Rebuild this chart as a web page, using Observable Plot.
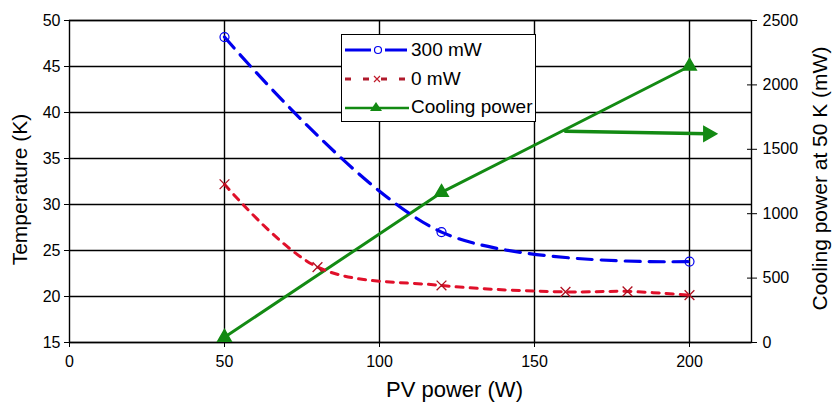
<!DOCTYPE html>
<html>
<head>
<meta charset="utf-8">
<script src="https://cdn.jsdelivr.net/npm/d3@7"></script>
<script src="https://cdn.jsdelivr.net/npm/@observablehq/plot@0.6"></script>
<style>
  body { margin: 0; background: #fff; }
  #wrap { position: relative; width: 832px; height: 407px; font-family: "Liberation Sans", Arial, sans-serif; }
  #legend { position: absolute; left: 341px; top: 34px; width: 195px; height: 88px; border: 1.5px solid #000; background: #fff; box-sizing: border-box; }
  .row { position: absolute; left: 3px; height: 24px; display: flex; align-items: center; font-size: 19px; color: #000; }
  .row svg { display: block; margin-right: 2px; }
</style>
</head>
<body>
<div id="wrap"></div>
<script>
// ---- data ----
const pvPower300 = [50, 120, 200];
const temp300 = [48.2, 27.0, 23.8];
const pvPower0 = [50, 80, 120, 160, 180, 200];
const temp0 = [32.2, 23.2, 21.2, 20.5, 20.55, 20.15];
const pvPowerCool = [50, 120, 200];
const coolingPower = [40, 1165, 2145];
const xTicks = [0, 50, 100, 150, 200];
const tempTicks = [15, 20, 25, 30, 35, 40, 45, 50];
const powerTicks = [0, 500, 1000, 1500, 2000, 2500];
const arrowX = [160, 206];
const arrowPower = [1640, 1620];
const seriesNames = ["300 mW", "0 mW", "Cooling power"];

// map right-axis power (0..2500 mW) onto left-axis temperature (15..50 K)
const tMin = 15, tMax = 50, pMax = 2500;
const p2t = p => tMin + (p / pMax) * (tMax - tMin);

const s300 = pvPower300.map((x, i) => ({x, y: temp300[i]}));
const s0 = pvPower0.map((x, i) => ({x, y: temp0[i]}));
const sCool = pvPowerCool.map((x, i) => ({x, y: p2t(coolingPower[i])}));
const arrowLine = arrowX.map((x, i) => ({x, y: p2t(arrowPower[i])}));

const BLUE = "#0000ee", RED = "#e0102a", GREEN = "#138a13";
const font = "Liberation Sans, Arial, sans-serif";

const chart = Plot.plot({
  width: 832,
  height: 407,
  marginLeft: 69,
  marginRight: 81,
  marginTop: 20,
  marginBottom: 65,
  style: {fontFamily: font, fontSize: "16px", color: "#000", background: "#fff"},
  x: {domain: [0, 220]},
  y: {domain: [tMin, tMax]},
  marks: [
    Plot.gridY(tempTicks, {stroke: "#000", strokeOpacity: 1, strokeWidth: 1.4}),
    Plot.gridX(xTicks.slice(1), {stroke: "#000", strokeOpacity: 1, strokeWidth: 1.4}),
    Plot.frame({stroke: "#000", strokeWidth: 1.4}),
    Plot.axisY(tempTicks, {anchor: "left", tickSize: 5, tickPadding: 4, fontSize: 16, label: null}),
    Plot.axisY(powerTicks.map(p2t), {anchor: "right", tickSize: 10, dx: -5, tickPadding: 6, fontSize: 16, label: null,
      tickFormat: (d, i) => String(powerTicks[i])}),
    Plot.axisX(xTicks, {anchor: "bottom", tickSize: 5, tickPadding: 8, fontSize: 16, label: null}),
    Plot.text(["Temperature (K)"], {frameAnchor: "left", dx: -49, dy: 8, rotate: -90, fontSize: 21, textAnchor: "middle"}),
    Plot.text(["Cooling power at 50 K (mW)"], {frameAnchor: "right", dx: 69, dy: -3, rotate: -90, fontSize: 21, textAnchor: "middle"}),
    Plot.text(["PV power (W)"], {frameAnchor: "bottom", dx: 44, dy: 54, fontSize: 22, textAnchor: "middle"}),
    // series
    Plot.line(sCool, {x: "x", y: "y", stroke: GREEN, strokeWidth: 3}),
    Plot.line(s300, {x: "x", y: "y", stroke: BLUE, strokeWidth: 3.2, strokeDasharray: "15,9", curve: "catmull-rom"}),
    Plot.line(s0, {x: "x", y: "y", stroke: RED, strokeWidth: 3, strokeDasharray: "7,7", curve: "catmull-rom"}),
    Plot.dot(s300, {x: "x", y: "y", r: 4.5, symbol: "circle", stroke: BLUE, fill: "none", strokeWidth: 1.2}),
    Plot.dot(s0, {x: "x", y: "y", r: 4.5, symbol: "times", stroke: "#b01020", strokeWidth: 1.3}),
    Plot.dot(sCool, {x: "x", y: "y", r: 5, symbol: "triangle", fill: GREEN, stroke: GREEN}),
    // annotation arrow
    Plot.line(arrowLine, {x: "x", y: "y", stroke: GREEN, strokeWidth: 3.5}),
    Plot.dot([arrowLine[1]], {x: "x", y: "y", r: 5.5, symbol: "triangle", rotate: 90, fill: GREEN, stroke: GREEN})
  ]
});

const wrap = document.getElementById("wrap");
wrap.appendChild(chart);

// legend
const legend = document.createElement("div");
legend.id = "legend";
const samples = [
  `<svg width="64" height="16"><line x1="0" y1="8" x2="26" y2="8" stroke="${BLUE}" stroke-width="3"/><line x1="40" y1="8" x2="62" y2="8" stroke="${BLUE}" stroke-width="3"/><circle cx="33" cy="8" r="3.5" fill="none" stroke="${BLUE}" stroke-width="1.2"/></svg>`,
  `<svg width="64" height="16"><line x1="0" y1="8" x2="62" y2="8" stroke="#b01a2c" stroke-width="3" stroke-dasharray="6,12"/><path d="M29,5 L35,11 M35,5 L29,11" stroke="#c01a2a" stroke-width="1.2"/></svg>`,
  `<svg width="64" height="16"><line x1="0" y1="9" x2="64" y2="9" stroke="${GREEN}" stroke-width="2.5"/><path d="M31,3 L37,12 L25,12 Z" fill="${GREEN}"/></svg>`
];
const tops = [3, 32, 60];
seriesNames.forEach((name, i) => {
  const row = document.createElement("div");
  row.className = "row";
  row.style.top = tops[i] + "px";
  row.innerHTML = samples[i] + `<span>${name}</span>`;
  legend.appendChild(row);
});
wrap.appendChild(legend);
</script>
</body>
</html>
